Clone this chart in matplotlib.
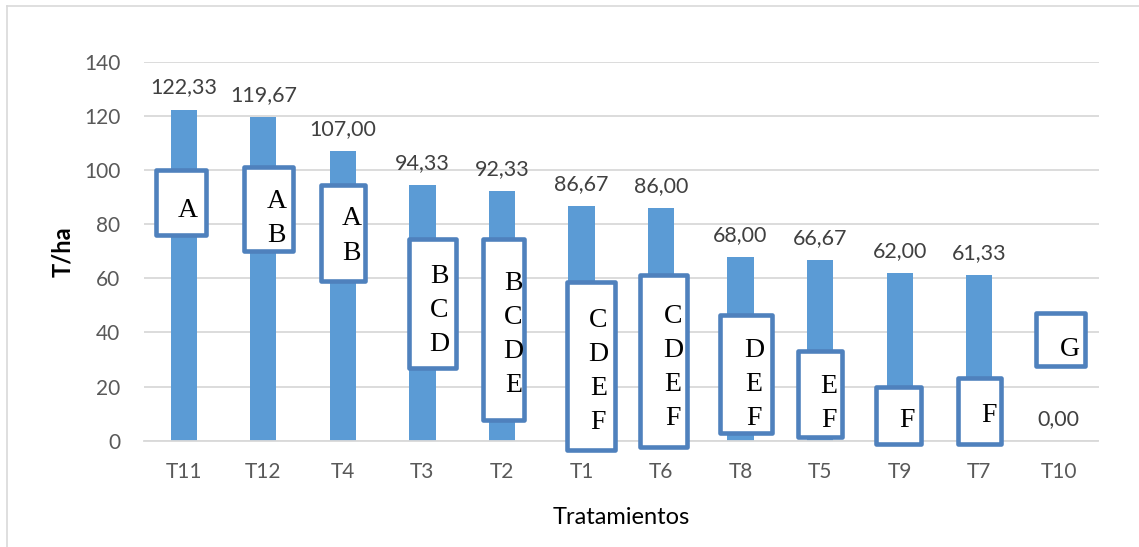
import matplotlib
matplotlib.use("Agg")
import matplotlib.pyplot as plt
from matplotlib.patches import Rectangle
from matplotlib.lines import Line2D

# Yield per treatment (T/ha), sorted from highest to lowest
tratamientos = ["T11", "T12", "T4", "T3", "T2", "T1", "T6", "T8", "T5", "T9", "T7", "T10"]
rendimiento = [122.33, 119.67, 107.00, 94.33, 92.33, 86.67, 86.00, 68.00, 66.67, 62.00, 61.33, 0.00]
# Tukey grouping letters for each treatment
grupos = ["A", "AB", "AB", "BCD", "BCDE", "CDEF", "CDEF", "DEF", "EF", "F", "F", "G"]

# Annotation boxes: (left, right) offsets from the category centre, (bottom, top) in T/ha
caja_x = [(-0.346, 0.276), (-0.242, 0.367), (-0.276, 0.284), (-0.170, 0.426),
          (-0.241, 0.280), (-0.187, 0.424), (-0.258, 0.325), (-0.254, 0.392),
          (-0.275, 0.272), (-0.296, 0.263), (-0.267, 0.279), (-0.288, 0.334)]
caja_y = [(76.0, 99.9), (70.1, 101.1), (58.9, 94.4), (26.7, 74.4),
          (7.5, 74.4), (-3.3, 58.5), (-2.5, 61.1), (2.7, 46.6),
          (1.2, 33.3), (-1.4, 19.9), (-1.4, 23.3), (27.5, 47.0)]
# Letter column: x offset from category centre and y of the first letter
letra_dx = [0.053, 0.170, 0.111, 0.216, 0.145, 0.212, 0.153, 0.170, 0.111, 0.095, 0.119, 0.136]
letra_y0 = [86.3, 89.6, 83.0, 61.9, 59.3, 45.6, 47.0, 34.4, 21.1, 8.5, 10.4, 34.8]
paso_letra = 12.6

W, H = 1139, 547
fig = plt.figure(figsize=(W / 100, H / 100), dpi=100)
ax = fig.add_axes([144 / W, 1 - 440.7 / H, (1098.5 - 144) / W, (440.7 - 61.7) / H])

fuente = "Lato"
gris_txt = "#595959"
azul_barra = "#5B9BD5"
azul_caja = "#4F81BD"

x = list(range(len(tratamientos)))
ax.bar(x, rendimiento, width=0.33, color=azul_barra, zorder=2)

ax.set_xlim(-0.5, len(tratamientos) - 0.5)
ax.set_ylim(0, 140)
ax.set_yticks(range(0, 141, 20))
ax.set_xticks(x)
ax.set_xticklabels(tratamientos)
ax.yaxis.grid(True, color="#d9d9d9", linewidth=1.3, zorder=0)
ax.set_axisbelow(True)
for s in ax.spines.values():
    s.set_visible(False)
ax.spines["bottom"].set_visible(True)
ax.spines["bottom"].set_color("#d9d9d9")
ax.spines["bottom"].set_linewidth(1.3)
ax.tick_params(axis="both", length=0, labelsize=15, labelcolor=gris_txt)
ax.tick_params(axis="y", pad=17)
ax.tick_params(axis="x", pad=15)
for lab in ax.get_xticklabels() + ax.get_yticklabels():
    lab.set_fontfamily(fuente)

# Value labels above each bar
for xi, v in zip(x, rendimiento):
    ax.annotate(f"{v:.2f}".replace(".", ","), (xi, v), xytext=(0, 11.5),
                textcoords="offset points", ha="center", va="baseline",
                fontsize=15.5, color="#404040", family=fuente, zorder=4)

# Boxes with the grouping letters
for xi, (dx0, dx1), (y0, y1), dx, ly, g in zip(x, caja_x, caja_y, letra_dx, letra_y0, grupos):
    r = Rectangle((xi + dx0, y0), dx1 - dx0, y1 - y0, facecolor="white",
                  edgecolor=azul_caja, linewidth=3.3, joinstyle="round",
                  clip_on=False, zorder=5)
    ax.add_patch(r)
    for k, letra in enumerate(g):
        ax.annotate(letra, (xi + dx, ly - k * paso_letra), xytext=(0, -6.8),
                    textcoords="offset points", ha="center", va="baseline",
                    fontsize=20, color="black", family="Liberation Serif",
                    annotation_clip=False, zorder=6)

ax.set_ylabel("T/ha", fontsize=17, fontweight="bold", family=fuente)
ax.set_xlabel("Tratamientos", fontsize=17, family=fuente)
ax.yaxis.set_label_coords((63 - 144) / (1098.5 - 144), 0.5)
ax.xaxis.set_label_coords(0.5, -(517 - 440.7) / (440.7 - 61.7))
ax.xaxis.label.set_verticalalignment("center")
ax.yaxis.label.set_verticalalignment("center")

# Outer chart frame
fig.add_artist(Line2D([7 / W, 7 / W], [0, 1 - 6 / H], color="#d9d9d9", linewidth=1.2,
                      transform=fig.transFigure))
fig.add_artist(Line2D([7 / W, 1], [1 - 6 / H, 1 - 6 / H], color="#d9d9d9", linewidth=1.2,
                      transform=fig.transFigure))

fig.savefig("out.png", dpi=100)
